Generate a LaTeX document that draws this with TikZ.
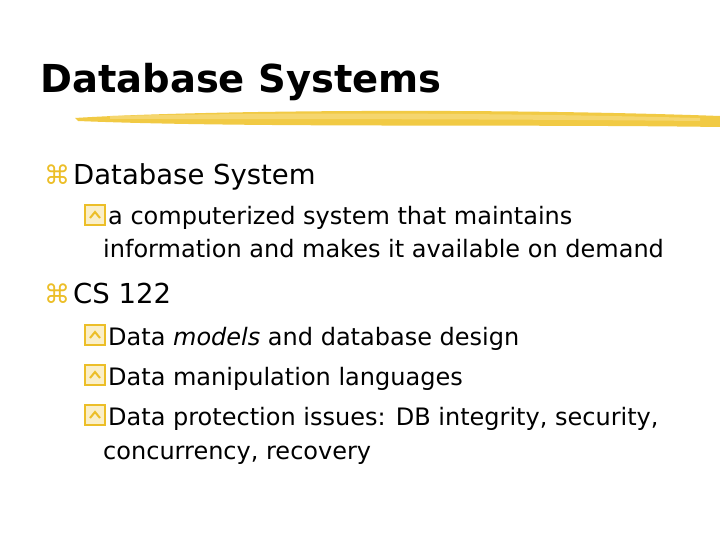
\documentclass[tikz,border=0pt]{standalone}
\usepackage{fontspec}
\setmainfont{DejaVu Sans}
\newfontfamily\titlefont{DejaVu Sans}
\newfontfamily\symfont{DejaVu Sans}
\definecolor{brushColor}{RGB}{240, 196, 48}
\definecolor{bulletColor}{RGB}{236, 190, 40}
\tikzset{
  title/.style={anchor=base west, inner sep=0pt, font=\titlefont\bfseries\fontsize{38.5}{42}\selectfont},
  lvlone/.style={anchor=base west, inner sep=0pt, font=\fontsize{27.5}{32}\selectfont},
  lvltwo/.style={anchor=base west, inner sep=0pt, font=\fontsize{24}{28}\selectfont},
  cmdbul/.style={anchor=base west, inner sep=0pt, text=bulletColor, font=\symfont\fontsize{26}{28}\selectfont},
  boxbul/.style={draw=bulletColor, line width=2pt, fill=bulletColor!25, minimum size=20pt, inner sep=0pt, anchor=south west}
}
\newcommand{\chev}[1]{\draw[bulletColor, line width=2pt] ([xshift=-5pt,yshift=-3pt]#1.center) -- ([yshift=3pt]#1.center) -- ([xshift=5pt,yshift=-3pt]#1.center);}
\begin{document}
\begin{tikzpicture}[x=1pt, y=-1pt]
    \useasboundingbox (0,0) rectangle (720,540);
    % Title and brush stroke
    \node[title] (head) at (40,93) {Database Systems};
    \fill[brushColor, opacity=0.9] (75,118) .. controls (200,110) and (500,108) .. (720,116)
        -- (720,127) .. controls (500,124) and (250,128) .. (78,121) -- cycle;
    \fill[brushColor!70] (110,116) .. controls (300,112) and (500,113) .. (700,118)
        -- (700,121) .. controls (500,119) and (300,119) .. (110,119) -- cycle;
    % Level one items
    \node[cmdbul] (b1) at (44,185) {⌘};
    \node[lvlone] (t1) at (73,185) {Database System};
    \node[cmdbul] (b2) at (44,303) {⌘};
    \node[lvlone] (t2) at (73,303) {CS 122};
    % Level two items
    \node[boxbul] (s1) at (84,226) {};
    \chev{s1}
    \node[lvltwo] (u1) at (108,225) {a computerized system that maintains};
    \node[lvltwo] (u1b) at (103,258) {information and makes it available on demand};
    \node[boxbul] (s2) at (84,346) {};
    \chev{s2}
    \node[lvltwo] (u2) at (108,345) {Data {\itshape models} and database design};
    \node[boxbul] (s3) at (84,386) {};
    \chev{s3}
    \node[lvltwo] (u3) at (108,385) {Data manipulation languages};
    \node[boxbul] (s4) at (84,426) {};
    \chev{s4}
    \node[lvltwo] (u4) at (108,425) {Data protection issues: DB integrity, security,};
    \node[lvltwo] (u4b) at (103,459) {concurrency, recovery};
\end{tikzpicture}
\end{document}
